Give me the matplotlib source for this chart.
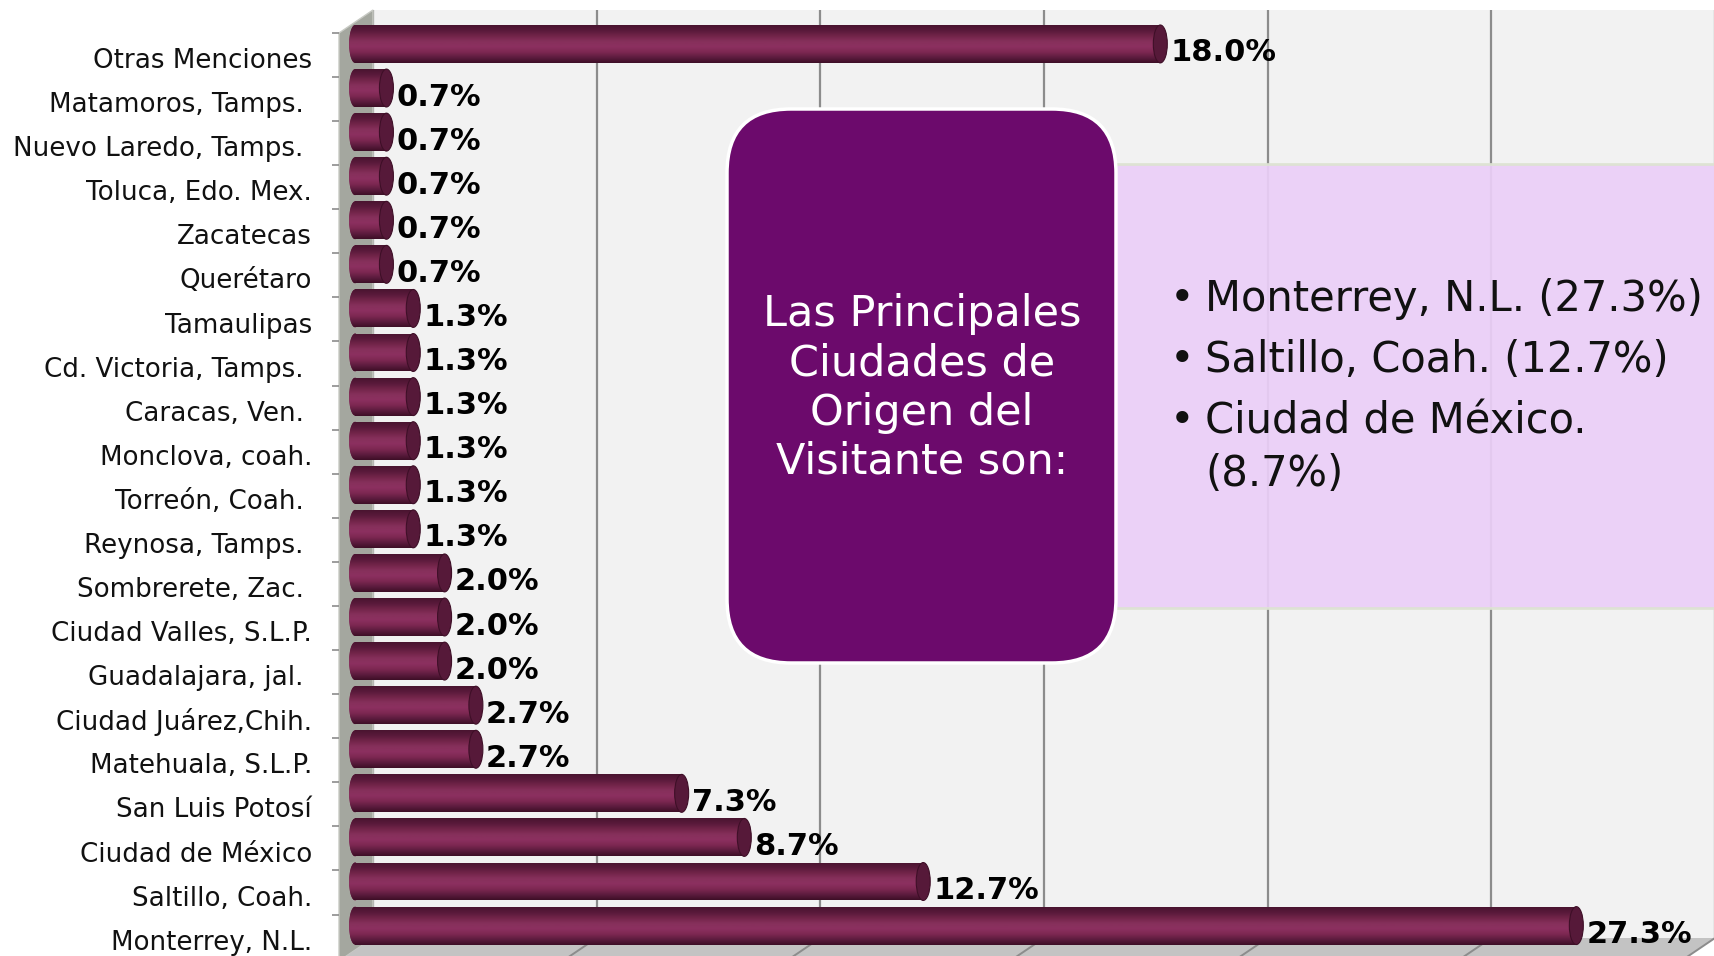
import matplotlib.pyplot as plt
import numpy as np
from matplotlib.colors import LinearSegmentedColormap
from matplotlib.patches import Ellipse, FancyBboxPatch, Polygon, Rectangle
from matplotlib.transforms import IdentityTransform

# Ciudades de origen del visitante (de abajo hacia arriba)
cities = [
    "Monterrey, N.L.", "Saltillo, Coah.", "Ciudad de México", "San Luis Potosí",
    "Matehuala, S.L.P.", "Ciudad Juárez,Chih.", "Guadalajara, jal. ",
    "Ciudad Valles, S.L.P.", "Sombrerete, Zac. ", "Reynosa, Tamps. ",
    "Torreón, Coah. ", "Monclova, coah.", "Caracas, Ven. ",
    "Cd. Victoria, Tamps. ", "Tamaulipas", "Querétaro", "Zacatecas",
    "Toluca, Edo. Mex.", "Nuevo Laredo, Tamps. ", "Matamoros, Tamps. ",
    "Otras Menciones",
]
shares = [27.3, 12.7, 8.7, 7.3, 2.7, 2.7, 2.0, 2.0, 2.0, 1.3, 1.3, 1.3, 1.3,
          1.3, 1.3, 0.7, 0.7, 0.7, 0.7, 0.7, 18.0]

box_title = "Las Principales\nCiudades de\nOrigen del\nVisitante son:"
highlights = [["Monterrey, N.L. (27.3%)"], ["Saltillo, Coah. (12.7%)"],
              ["Ciudad de México.", "(8.7%)"]]

W, H = 1715, 956
fig = plt.figure(figsize=(W / 100, H / 100), dpi=100)
fig.patch.set_facecolor("white")


def fx(px):
    return px / W


def fy(py):
    # py measured from the top of the image
    return 1 - py / H


# back wall with the 5 % grid
wall = fig.add_axes([fx(373), fy(938), fx(W - 373), fy(10) - fy(938)], zorder=0)
wall.set_facecolor("#f2f2f2")
wall.set_xlim(0, 30)
wall.set_xticks(np.arange(0, 31, 5))
wall.set_yticks([])
wall.grid(axis="x", color="#8c8c8c", lw=1.6)
wall.tick_params(length=0, labelbottom=False)
for s in wall.spines.values():
    s.set_visible(False)

# side wall and floor
fig.patches.append(Polygon([(fx(339), fy(33)), (fx(373), fy(10)), (fx(373), fy(938)),
                            (fx(339), fy(961))], closed=True, transform=fig.transFigure,
                           fc="#a4a79f", ec="#c8cac4", lw=1, zorder=0.5))
fig.patches.append(Polygon([(fx(373), fy(938)), (fx(W), fy(938)), (fx(W - 34), fy(961)),
                            (fx(339), fy(961))], closed=True, transform=fig.transFigure,
                           fc="#c3c3c3", ec="none", zorder=0.5))
fig.canvas.draw()
for g in np.arange(5, 31, 5):
    x0 = wall.transData.transform((g, 0))[0]
    fig.add_artist(plt.Line2D([x0, x0 - 34], [H - 938, H - 961], transform=IdentityTransform(),
                              color="#8c8c8c", lw=1.4, zorder=0.6))

# main axes: bars on the front plane
ax = fig.add_axes([fx(339), 0, fx(W - 339), fy(10)], zorder=1)
ax.set_facecolor("none")
for s in ax.spines.values():
    s.set_visible(False)

y = np.arange(len(cities))
h = 0.86
xmin, xmax = -0.36, 30.40
ymin, ymax = -0.69, 20.77

cyl = LinearSegmentedColormap.from_list(
    "cyl", ["#3e0f27", "#5e1c3f", "#7d2852", "#8c3060", "#86305b", "#722449", "#5a1a3b", "#4a1430"])
grad = np.linspace(0, 1, 64).reshape(-1, 1)
px_per_unit = (W - 339) / (xmax - xmin)
cap_w = 14 / px_per_unit
left_w = 12 / px_per_unit

bars = ax.barh(y, shares, height=h, color="#7a2650", zorder=2)
for i, (bar, v) in enumerate(zip(bars, shares)):
    img = ax.imshow(grad, cmap=cyl, aspect="auto", extent=(0, v, i + h / 2, i - h / 2),
                    zorder=3)
    img.set_clip_path(bar)
    end = Ellipse((0, i), left_w, h, fc="#7a2650", ec="none", zorder=2)
    ax.add_patch(end)
    img2 = ax.imshow(grad, cmap=cyl, aspect="auto",
                     extent=(-left_w / 2, 0.01, i + h / 2, i - h / 2), zorder=3)
    img2.set_clip_path(end)
    ax.add_patch(Ellipse((v, i), cap_w, h, fc="#561939", ec="#3e0f27", lw=0.8, zorder=4))
    ax.annotate(f"{v:.1f}%", (v, i), xytext=(10, -9), textcoords="offset pixels",
                ha="left", va="center", fontsize=22, fontweight="bold", color="black",
                zorder=5)

ax.set_xlim(xmin, xmax)
ax.set_ylim(ymin, ymax)
ax.set_xticks([])
ax.set_yticks(y - 0.32, cities, fontsize=18.8, color="#111111")
ax.set_yticks(np.arange(0.25, 20.3, 1), minor=True)
ax.tick_params(axis="y", which="major", length=0, pad=19.4)
ax.tick_params(axis="y", which="minor", length=5, width=1.2, color="#8c8c8c")

# summary boxes
pix = IdentityTransform()
fig.patches.append(Rectangle((1100, H - 608), W - 1100, 608 - 164, transform=pix,
                             fc="#ebcff8", ec="#dde3d2", lw=2, alpha=0.92, zorder=6))
fig.patches.append(FancyBboxPatch((727, H - 663), 389, 554, transform=pix,
                                  boxstyle="round,pad=0,rounding_size=64",
                                  fc="#6c0a6c", ec="white", lw=2.5, zorder=7))
fig.text(922, H - 388, box_title, transform=pix, ha="center", va="center",
         fontsize=31, color="white", linespacing=1.22, zorder=8)

line_y = 299
for item in highlights:
    fig.text(1170, H - line_y, "•", transform=pix, ha="left", va="center",
             fontsize=30, color="#111111", zorder=8)
    for k, line in enumerate(item):
        fig.text(1205, H - line_y - 53 * k, line, transform=pix, ha="left", va="center",
                 fontsize=30, color="#111111", zorder=8)
    line_y += 61

fig.savefig("out.png", dpi=100)
